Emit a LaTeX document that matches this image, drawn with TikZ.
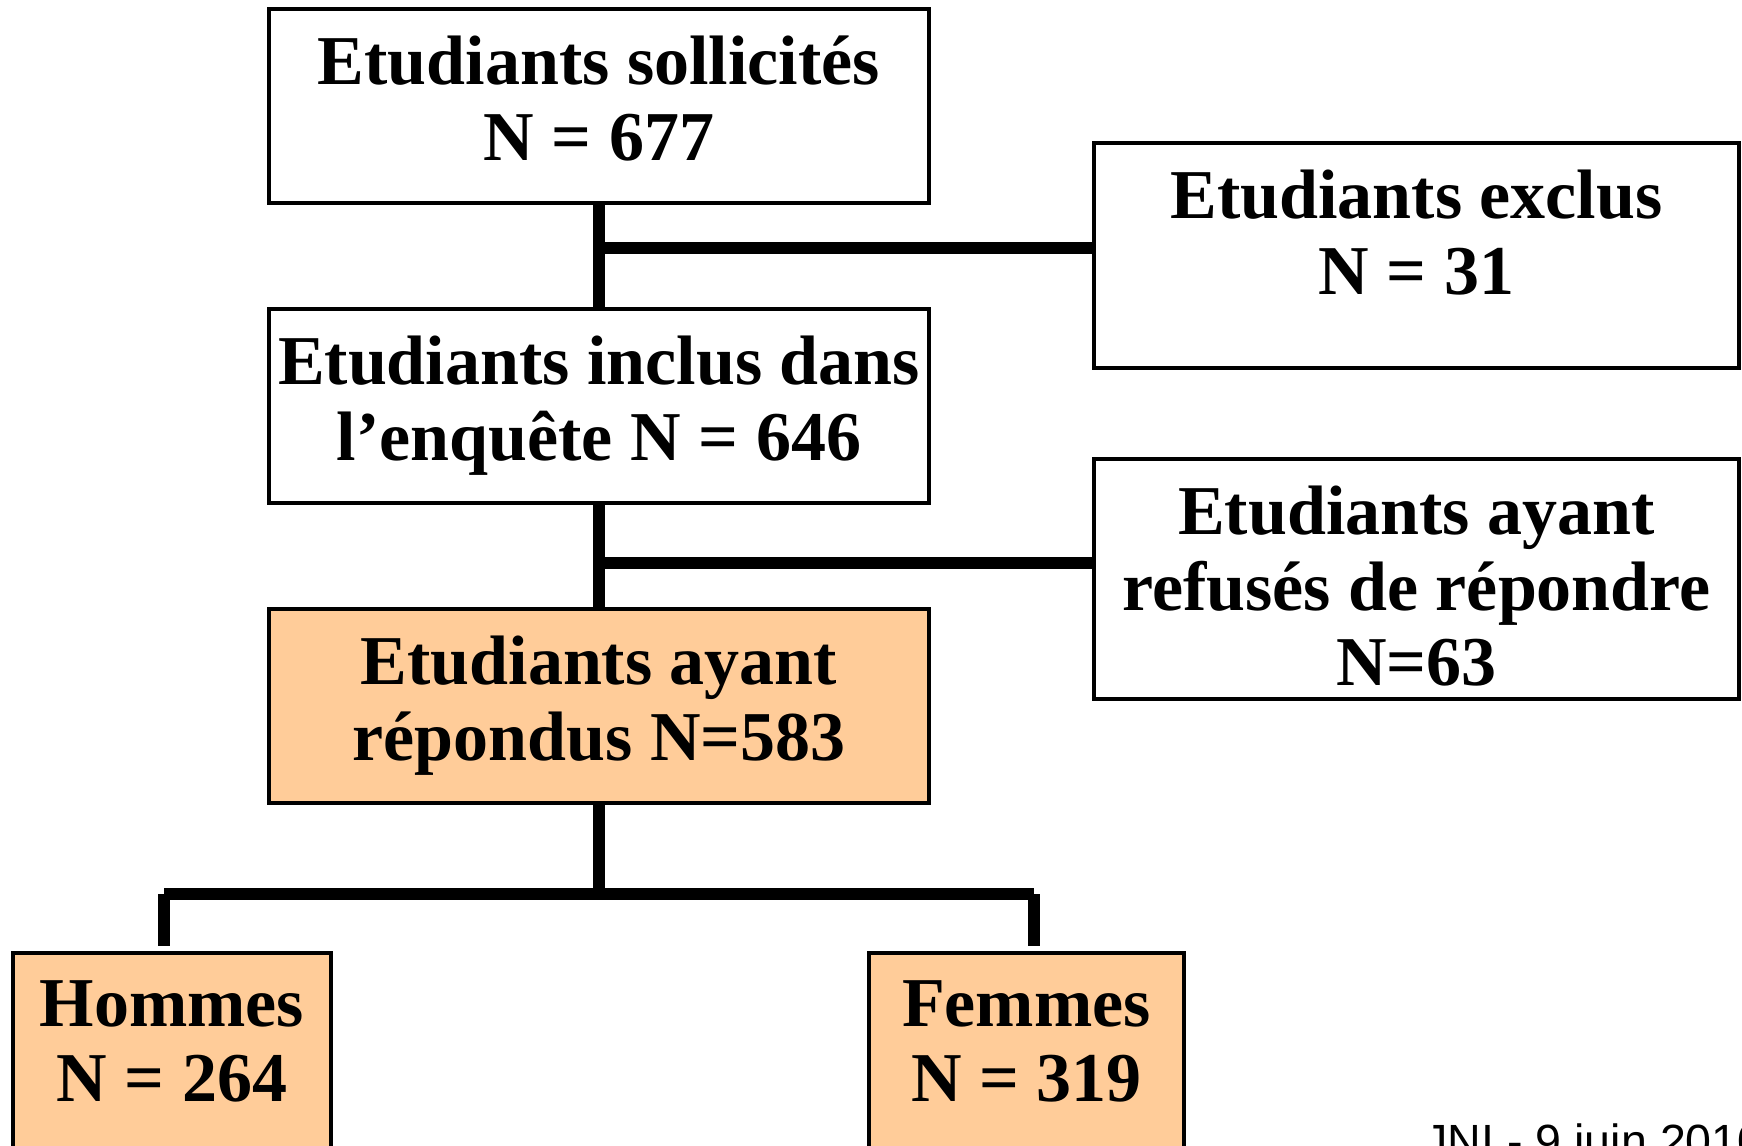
\documentclass[tikz,border=0pt]{standalone}
\usepackage{fontspec}
\setmainfont{Liberation Serif}
\newfontfamily\footfont{Liberation Sans}
\usetikzlibrary{positioning}
\definecolor{boxorange}{RGB}{255,204,153}
\tikzset{%
  box/.style={%
    draw=black,
    line width=1.65pt,
    fill=white,
    rectangle,
    inner sep=0pt%
  },
  obox/.style={%
    box,
    fill=boxorange
  },
  btext/.style={%
    align=center,
    inner sep=0pt,
    font=\fontsize{35}{37.75}\selectfont\bfseries
  },
  link/.style={%
    line width=6pt
  }
}

\begin{document}
\begin{tikzpicture}[x=0.5pt,y=-0.5pt]
  \useasboundingbox (0,0) rectangle (1742,1146);
  \clip (0,0) rectangle (1742,1146);

  % boxes
  \node[box,  minimum width=330pt, minimum height=97pt]  (sol) at (599,106) {};
  \node[box,  minimum width=330pt, minimum height=97pt]  (inc) at (599,406) {};
  \node[obox, minimum width=330pt, minimum height=97pt]  (rep) at (599,706) {};
  \node[box,  minimum width=322.5pt, minimum height=112.5pt] (exc) at (1416.5,255.5) {};
  \node[box,  minimum width=322.5pt, minimum height=120pt]   (ref) at (1416.5,579) {};
  \node[obox, minimum width=159pt, minimum height=130pt]   (hom) at (172,1083) {};
  \node[obox, minimum width=157.5pt, minimum height=130pt] (fem) at (1026.5,1083) {};

  % texts
  \node[btext, below=14.3pt of sol.north] (tsol) {Etudiants sollicités\\N = 677};
  \node[btext, below=14.3pt of inc.north] (tinc) {Etudiants inclus dans\\l’enquête N = 646};
  \node[btext, below=14.3pt of rep.north] (trep) {Etudiants ayant\\répondus N=583};
  \node[btext, below=14.3pt of exc.north] (texc) {Etudiants exclus\\N = 31};
  \node[btext, below=14.3pt of ref.north] (tref) {Etudiants ayant\\refusés de répondre\\N=63};
  \node[btext, below=14.3pt of hom.north] (thom) {Hommes\\N = 264};
  \node[btext, below=14.3pt of fem.north] (tfem) {Femmes\\N = 319};

  \node[anchor=base west, inner sep=0pt, font=\footfont\fontsize{23.3}{28}\selectfont]
    (foot) at (1424,1157) {JNI - 9 juin 2010};

  % connectors
  \coordinate (j1) at (599,248);
  \coordinate (j2) at (599,563);
  \coordinate (j3) at (599,894);
  \coordinate (jh) at (164,894);
  \coordinate (jf) at (1034,894);
  \draw[link] (sol) -- (inc);
  \draw[link] (inc) -- (rep);
  \draw[link] (j1) -- (j1 -| exc.west);
  \draw[link] (j2) -- (j2 -| ref.west);
  \draw[link] (rep) -- (j3);
  \draw[link] (jh) -- (jf);
  \draw[link, shorten >=2.5pt] (jh) -- (jh |- hom.north);
  \draw[link, shorten >=2.5pt] (jf) -- (jf |- fem.north);
\end{tikzpicture}
\end{document}
